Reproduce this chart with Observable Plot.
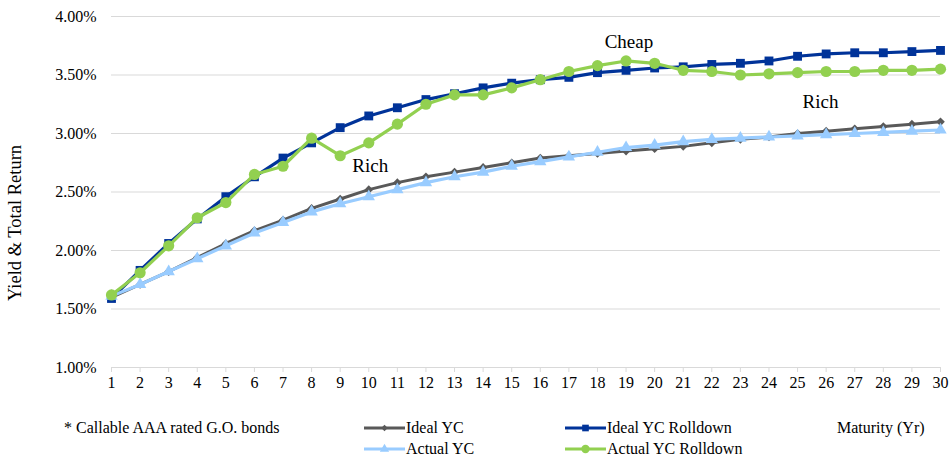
<!DOCTYPE html>
<html>
<head>
<meta charset="utf-8">
<script src="https://cdn.jsdelivr.net/npm/d3@7"></script>
<script src="https://cdn.jsdelivr.net/npm/@observablehq/plot@0.6"></script>
<style>
  html, body { margin: 0; padding: 0; background: #fff; }
  #wrap { position: relative; width: 951px; height: 461px; font-family: "Liberation Serif", serif; color: #000; }
  #wrap svg.plot { position: absolute; left: 0; top: 0; }
  .lg { position: absolute; font-size: 16px; line-height: 1; white-space: nowrap; transform: translateY(-50%); }
  .sw { position: absolute; transform: translateY(-50%); }
</style>
</head>
<body>
<div id="wrap"></div>
<script>
// Maturity in years
const maturities = d3.range(1, 31);

// Yield / total return (%) by maturity
const idealYC = [1.60, 1.71, 1.82, 1.94, 2.06, 2.17, 2.26, 2.36, 2.44, 2.52,
                 2.58, 2.63, 2.67, 2.71, 2.75, 2.79, 2.81, 2.83, 2.85, 2.87,
                 2.89, 2.92, 2.95, 2.97, 3.00, 3.02, 3.04, 3.06, 3.08, 3.10];
const idealYCRolldown = [1.59, 1.83, 2.06, 2.27, 2.46, 2.63, 2.79, 2.92, 3.05, 3.15,
                         3.22, 3.29, 3.34, 3.39, 3.43, 3.46, 3.48, 3.52, 3.54, 3.56,
                         3.57, 3.59, 3.60, 3.62, 3.66, 3.68, 3.69, 3.69, 3.70, 3.71];
const actualYC = [1.61, 1.71, 1.82, 1.93, 2.04, 2.15, 2.24, 2.33, 2.40, 2.46,
                  2.52, 2.58, 2.63, 2.67, 2.72, 2.76, 2.80, 2.84, 2.88, 2.90,
                  2.93, 2.95, 2.96, 2.97, 2.98, 2.99, 3.00, 3.01, 3.02, 3.03];
const actualYCRolldown = [1.62, 1.81, 2.04, 2.28, 2.41, 2.65, 2.72, 2.96, 2.81, 2.92,
                          3.08, 3.25, 3.33, 3.33, 3.39, 3.46, 3.53, 3.58, 3.62, 3.60,
                          3.54, 3.53, 3.50, 3.51, 3.52, 3.53, 3.53, 3.54, 3.54, 3.55];

// Y-axis ticks (%)
const yTicks = [1.00, 1.50, 2.00, 2.50, 3.00, 3.50, 4.00];

// Callouts on the curves
const noteLabels = ["Rich", "Cheap", "Rich"];
const noteMaturity = [10.05, 19.1, 25.8];
const noteYield = [2.72, 3.78, 3.27];

const seriesNames = ["Ideal YC", "Ideal YC Rolldown", "Actual YC", "Actual YC Rolldown"];
const seriesValues = [idealYC, idealYCRolldown, actualYC, actualYCRolldown];
const seriesStyle = {
  "Ideal YC":           {color: "#595959", symbol: "diamond2", r: 3.9, width: 3},
  "Ideal YC Rolldown":  {color: "#003399", symbol: "square",   r: 5.0, width: 3.2},
  "Actual YC":          {color: "#99ccff", symbol: "triangle", r: 4.6, width: 3.2},
  "Actual YC Rolldown": {color: "#92d050", symbol: "circle",   r: 5.6, width: 3.2}
};

const rows = seriesNames.flatMap((name, s) =>
  maturities.map((m, i) => ({series: name, maturity: m, value: seriesValues[s][i]})));
const notes = noteLabels.map((label, i) => ({label, x: noteMaturity[i], y: noteYield[i]}));

const seriesMarks = seriesNames.flatMap(name => {
  const st = seriesStyle[name];
  const data = rows.filter(d => d.series === name);
  return [
    Plot.line(data, {x: "maturity", y: "value", stroke: st.color, strokeWidth: st.width}),
    Plot.dot(data, {x: "maturity", y: "value", symbol: st.symbol, r: st.r, fill: st.color, stroke: "none"})
  ];
});

const chart = Plot.plot({
  width: 951,
  height: 400,
  marginLeft: 111,
  marginRight: 11,
  marginTop: 16,
  marginBottom: 33,
  style: {fontFamily: "Liberation Serif, serif", fontSize: "16px", background: "#fff", color: "#000"},
  x: {type: "linear", domain: [1, 30], axis: null},
  y: {type: "linear", domain: [1, 4], axis: null},
  marks: [
    Plot.gridY(yTicks.filter(d => d > 1), {stroke: "#d9d9d9", strokeOpacity: 1, strokeWidth: 1}),
    Plot.ruleY([1], {stroke: "#d9d9d9", strokeWidth: 1}),
    // tick marks below the category axis
    Plot.axisX(maturities, {tickSize: 5, stroke: "#d9d9d9", tickFormat: () => "", label: null}),
    // tick labels
    Plot.text(yTicks, {frameAnchor: "left", y: d => d, dx: -15, textAnchor: "end",
                       text: d => d.toFixed(2) + "%", fontSize: 16, fill: "#000"}),
    Plot.text(maturities, {frameAnchor: "bottom", x: d => d, dy: 20, text: d => String(d),
                           fontSize: 16, fill: "#000"}),
    Plot.text(["Yield & Total Return"], {frameAnchor: "left", textAnchor: "middle", rotate: -90,
                                         dx: -96, dy: 31, fontSize: 18.5, fill: "#000"}),
    ...seriesMarks,
    Plot.text(notes, {x: "x", y: "y", text: "label", fontSize: 19, fill: "#000"})
  ]
});
chart.classList.add("plot");
const wrap = document.getElementById("wrap");
wrap.appendChild(chart);

// Legend and footnotes below the plot
function addText(text, left, top) {
  const el = document.createElement("div");
  el.className = "lg";
  el.textContent = text;
  el.style.left = left + "px";
  el.style.top = top + "px";
  wrap.appendChild(el);
}
const symbolTypes = {diamond2: d3.symbolDiamond2, square: d3.symbolSquare, triangle: d3.symbolTriangle, circle: d3.symbolCircle};
function addSwatch(name, left, top) {
  const st = seriesStyle[name];
  const w = 41, h = 14;
  const svg = d3.create("svg").attr("class", "sw").attr("width", w).attr("height", h)
    .style("left", left + "px").style("top", top + "px");
  svg.append("line").attr("x1", 0).attr("x2", w).attr("y1", h / 2).attr("y2", h / 2)
    .attr("stroke", st.color).attr("stroke-width", st.width);
  const size = Math.PI * Math.pow(st.r * 0.75, 2);
  svg.append("path").attr("transform", `translate(${w / 2},${h / 2})`)
    .attr("d", d3.symbol(symbolTypes[st.symbol], size)()).attr("fill", st.color);
  wrap.appendChild(svg.node());
}

addText("* Callable AAA rated G.O. bonds", 64, 428);
addSwatch("Ideal YC", 364, 428);
addText("Ideal YC", 406, 428);
addSwatch("Ideal YC Rolldown", 565, 428);
addText("Ideal YC Rolldown", 607, 428);
addSwatch("Actual YC", 364, 449);
addText("Actual YC", 406, 449);
addSwatch("Actual YC Rolldown", 565, 449);
addText("Actual YC Rolldown", 607, 449);
addText("Maturity (Yr)", 837, 428);
</script>
</body>
</html>
